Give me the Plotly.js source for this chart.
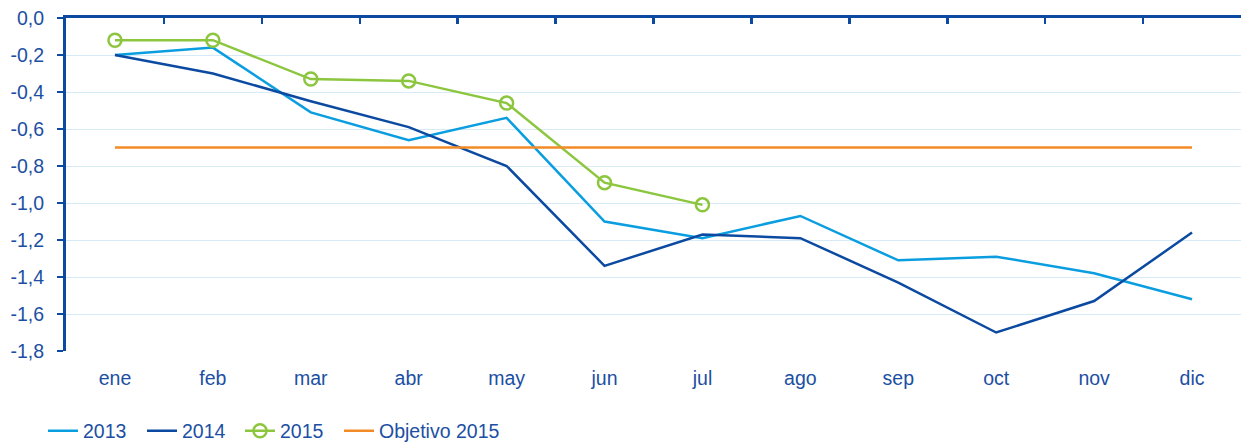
<!DOCTYPE html>
<html><head><meta charset="utf-8">
<script src="https://cdn.plot.ly/plotly-3.0.1.min.js"></script>
<style>html,body{margin:0;padding:0;background:#fff}#chart{width:1241px;height:442px}</style>
</head><body><div id="chart"></div>
<script>
const months = ['ene','feb','mar','abr','may','jun','jul','ago','sep','oct','nov','dic'];
const y2013 = [-0.20,-0.16,-0.51,-0.66,-0.54,-1.10,-1.19,-1.07,-1.31,-1.29,-1.38,-1.52];
const y2014 = [-0.20,-0.30,-0.45,-0.59,-0.80,-1.34,-1.17,-1.19,-1.43,-1.70,-1.53,-1.16];
const months2015 = ['ene','feb','mar','abr','may','jun','jul'];
const y2015 = [-0.12,-0.12,-0.33,-0.34,-0.46,-0.89,-1.01];
const objetivo = [-0.70,-0.70,-0.70,-0.70,-0.70,-0.70,-0.70,-0.70,-0.70,-0.70,-0.70,-0.70];
const yTicks = [0,-0.2,-0.4,-0.6,-0.8,-1.0,-1.2,-1.4,-1.6,-1.8];
const yTickText = ['0,0','-0,2','-0,4','-0,6','-0,8','-1,0','-1,2','-1,4','-1,6','-1,8'];

const textColor = '#1c4fa3';
const font = {family:'"Liberation Sans", Arial, sans-serif', size:19.5, color:textColor};

const traces = [
  {x:months, y:y2013, name:'2013', type:'scatter', mode:'lines', line:{color:'#0a9ee0', width:2.5}, legend:'legend'},
  {x:months, y:y2014, name:'2014', type:'scatter', mode:'lines', line:{color:'#0b4aa0', width:2.5}, legend:'legend2'},
  {x:months2015, y:y2015, name:'2015', type:'scatter', mode:'lines+markers', line:{color:'#8cc63e', width:2.5},
   marker:{symbol:'circle', size:13, color:'rgba(255,255,255,0)', line:{color:'#8cc63e', width:2.5}}, legend:'legend3'},
  {x:months, y:objetivo, name:'Objetivo 2015', type:'scatter', mode:'lines', line:{color:'#f28b26', width:2.5}, xaxis:'x2', legend:'legend4'}
];

function leg(px) {
  return {orientation:'h', x:px/1241, xref:'container', y:11/442, yref:'container', yanchor:'middle', xanchor:'left',
          font:font, bgcolor:'rgba(0,0,0,0)'};
}

const layout = {
  width:1241, height:442,
  margin:{l:66, r:0, t:18, b:91, autoexpand:false},
  paper_bgcolor:'#fff', plot_bgcolor:'#fff',
  font:font,
  showlegend:true,
  legend:leg(43), legend2:leg(142), legend3:leg(240), legend4:leg(339),
  xaxis:{type:'category', categoryarray:months, range:[-0.5,11.5], showline:false, showgrid:false, zeroline:false,
         ticks:'', tickfont:font, ticklabelstandoff:13, fixedrange:true},
  xaxis2:{type:'category', categoryarray:months, range:[-0.5,11.5], overlaying:'x', side:'top', anchor:'y',
          showline:true, linecolor:'#0b4aa0', linewidth:3, ticks:'inside', tickson:'boundaries', ticklen:6, tickwidth:2.5,
          tickcolor:'#0b4aa0', showticklabels:false, showgrid:false, zeroline:false},
  yaxis:{range:[-1.8,0], tickmode:'array', tickvals:yTicks, ticktext:yTickText, showline:true, linecolor:'#0b4aa0', linewidth:3,
         ticks:'outside', ticklen:6, tickwidth:2.5, tickcolor:'#0b4aa0', showgrid:true, gridcolor:'#d6ebf7', gridwidth:1,
         zeroline:false, tickfont:font, ticklabelstandoff:9}
};

Plotly.newPlot('chart', traces, layout, {displayModeBar:false, staticPlot:true});
</script></body></html>
